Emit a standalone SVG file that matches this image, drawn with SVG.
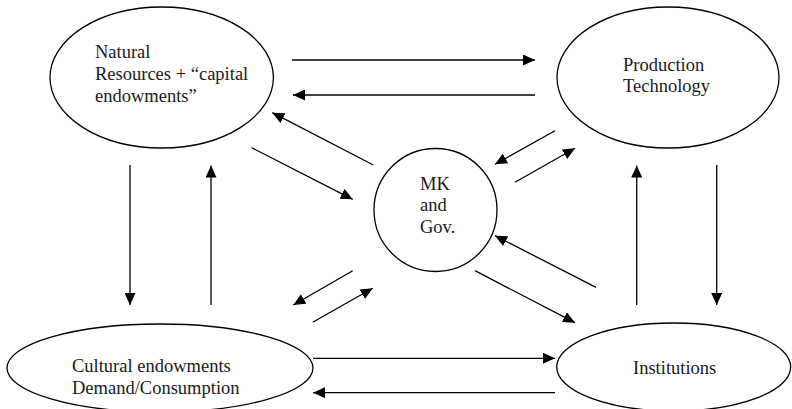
<svg xmlns="http://www.w3.org/2000/svg" width="792" height="409" viewBox="0 0 792 409">
<defs>
<style>
.node{fill:#fff;stroke:#000;stroke-width:1.3}
.lbl{font-family:"Liberation Serif","Times New Roman",serif;font-size:18.5px;fill:#1a1a1a}
.conn line{stroke:#000;stroke-width:1.3;marker-end:url(#ah)}
</style>
<marker id="ah" markerUnits="userSpaceOnUse" markerWidth="13" markerHeight="11" refX="12" refY="5.5" orient="auto" viewBox="0 0 13 11">
<path d="M0,0 L12,5.5 L0,11 z" fill="#000"/>
</marker>
</defs>
<rect width="792" height="409" fill="#fff"/>
<g id="natural-resources">
<ellipse class="node" cx="161.7" cy="77.5" rx="111.7" ry="70.5"/>
<text class="lbl" x="95" y="58">Natural</text>
<text class="lbl" x="95" y="80">Resources + “capital</text>
<text class="lbl" x="95" y="102">endowments”</text>
</g>
<g id="production-technology">
<ellipse class="node" cx="668" cy="77.5" rx="111" ry="70.5"/>
<text class="lbl" x="623" y="70.5">Production</text>
<text class="lbl" x="623" y="91.5">Technology</text>
</g>
<g id="mk-gov">
<circle class="node" cx="435.5" cy="210" r="61.5"/>
<text class="lbl" x="420" y="190">MK</text>
<text class="lbl" x="420" y="211">and</text>
<text class="lbl" x="420" y="232.5">Gov.</text>
</g>
<g id="cultural">
<ellipse class="node" cx="160" cy="368" rx="153" ry="44"/>
<text class="lbl" x="72" y="372">Cultural endowments</text>
<text class="lbl" x="72" y="393.5">Demand/Consumption</text>
</g>
<g id="institutions">
<ellipse class="node" cx="673.7" cy="367" rx="117" ry="44"/>
<text class="lbl" x="633" y="373.5">Institutions</text>
</g>
<g id="connectors" class="conn">
<line x1="292" y1="60" x2="535" y2="60"/>
<line x1="535" y1="95" x2="293" y2="95"/>
<line x1="313" y1="358.3" x2="555" y2="358.3"/>
<line x1="555" y1="392.7" x2="313" y2="392.7"/>
<line x1="130" y1="165" x2="130" y2="305"/>
<line x1="211" y1="305" x2="211" y2="165.5"/>
<line x1="636.7" y1="305" x2="636.7" y2="165.5"/>
<line x1="716.7" y1="165" x2="716.7" y2="305"/>
<line x1="373.3" y1="165" x2="272.3" y2="112.7"/>
<line x1="251.7" y1="147.7" x2="352.7" y2="199.3"/>
<line x1="555" y1="130.7" x2="495" y2="164.3"/>
<line x1="515" y1="182.3" x2="575" y2="148.3"/>
<line x1="596" y1="287.3" x2="495" y2="235.7"/>
<line x1="475" y1="270.7" x2="575" y2="322.7"/>
<line x1="352.7" y1="270.7" x2="293.3" y2="305"/>
<line x1="312.7" y1="322.3" x2="372.7" y2="288.3"/>
</g>
</svg>
